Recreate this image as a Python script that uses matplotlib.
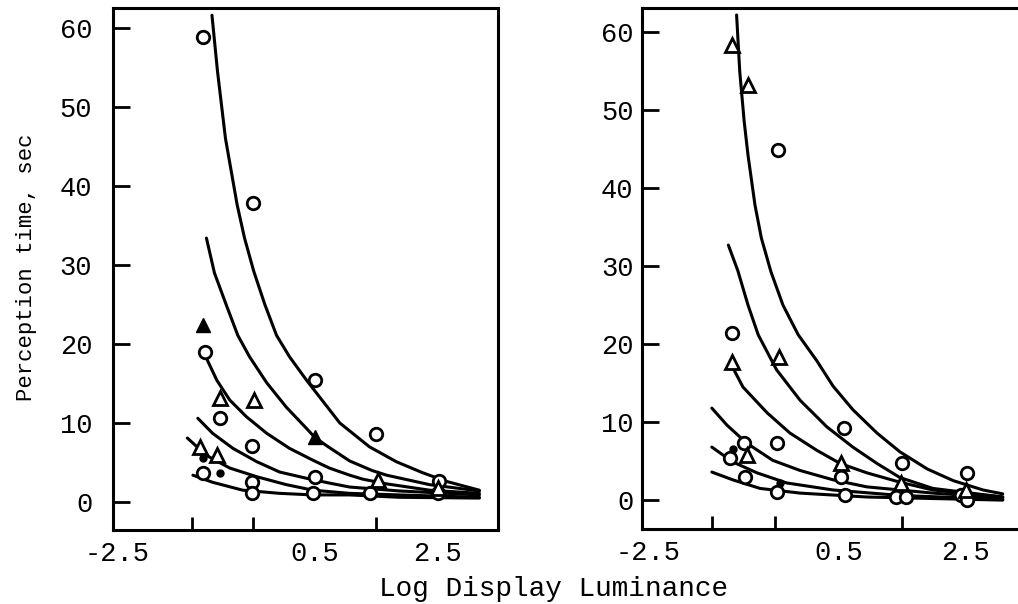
import matplotlib
matplotlib.use('Agg')
import matplotlib.pyplot as plt
from matplotlib.transforms import ScaledTranslation

plt.rcParams['font.family'] = ['Liberation Mono', 'DejaVu Sans Mono']

# ---- left panel: fitted curves (log luminance, seconds) ----
left_curves_x = [
    [-1.17, -1.08, -0.95, -0.76, -0.64, -0.49, -0.31, -0.12, 0.09, 0.37, 0.63, 0.91, 1.39, 1.83, 2.26, 2.65, 3.18],
    [-1.26, -1.13, -0.94, -0.75, -0.56, -0.28, 0.04, 0.37, 0.50, 0.70, 1.07, 1.43, 1.67, 2.37, 3.18],
    [-1.29, -1.26, -1.09, -0.88, -0.61, -0.28, 0.09, 0.47, 0.74, 1.07, 1.28, 1.67, 2.37, 3.18],
    [-1.40, -1.16, -0.83, -0.44, -0.07, 0.37, 0.74, 1.07, 1.88, 3.18],
    [-1.57, -1.26, -0.88, -0.44, 0.04, 0.47, 1.07, 1.88, 3.18],
    [-1.48, -1.16, -0.67, -0.07, 0.47, 1.07, 1.88, 3.18],
]
left_curves_y = [
    [61.6, 54.5, 46.0, 37.6, 33.4, 29.2, 25.0, 21.1, 18.4, 15.4, 12.8, 10.0, 7.0, 5.1, 3.7, 2.6, 1.5],
    [33.4, 29.0, 25.0, 21.1, 18.4, 15.1, 12.0, 9.3, 8.2, 7.1, 5.2, 4.0, 3.4, 2.2, 1.4],
    [19.0, 18.2, 15.4, 12.9, 10.8, 8.7, 6.8, 5.3, 4.3, 3.4, 2.9, 2.3, 1.5, 1.1],
    [10.6, 8.7, 6.8, 5.1, 3.8, 3.0, 2.4, 1.9, 1.4, 0.9],
    [8.1, 5.9, 4.3, 3.2, 2.2, 1.5, 1.1, 0.9, 0.6],
    [3.4, 2.5, 1.5, 1.1, 0.9, 0.9, 0.6, 0.5],
]

# left panel: measured points
left_circle_x = [-1.32, -0.51, 0.50, 1.50, 2.53, -1.29, -1.04, -0.52, -1.32, 0.50, -0.52, -0.52, 0.47, 1.40, 2.50]
left_circle_y = [58.9, 37.8, 15.4, 8.6, 2.7, 19.0, 10.6, 7.1, 3.7, 3.2, 2.5, 1.1, 1.1, 1.1, 1.2]
left_solid_tri_x = [-1.32, 0.50]
left_solid_tri_y = [22.4, 8.2]
left_open_tri_x = [-1.04, -0.48, -1.08, -1.36, 1.53, 2.50]
left_open_tri_y = [13.2, 12.9, 5.9, 7.0, 2.8, 1.8]
left_dot_x = [-1.32, -1.04]
left_dot_y = [5.6, 3.7]

# ---- right panel: fitted curves ----
right_curves_x = [
    [-1.11, -1.06, -0.99, -0.93, -0.82, -0.72, -0.57, -0.38, -0.14, 0.15, 0.41, 0.72, 1.10, 1.46, 1.89, 2.30, 2.77, 3.08],
    [-1.24, -1.09, -0.93, -0.77, -0.48, -0.11, 0.31, 0.72, 1.10, 1.46, 1.98, 3.08],
    [-1.19, -1.01, -0.63, -0.27, 0.15, 0.52, 0.94, 1.46, 1.98, 3.08],
    [-1.50, -1.26, -0.95, -0.54, -0.11, 0.41, 0.94, 1.98, 3.08],
    [-1.50, -1.17, -0.79, -0.32, 0.41, 1.46, 3.08],
    [-1.50, -1.17, -0.74, -0.11, 0.94, 3.08],
]
right_curves_y = [
    [62.2, 54.9, 48.5, 44.2, 37.8, 33.6, 29.3, 25.0, 21.2, 17.9, 14.6, 11.6, 8.6, 6.2, 4.0, 2.5, 1.3, 0.8],
    [32.7, 29.4, 25.0, 21.2, 16.7, 12.8, 9.4, 6.8, 4.7, 2.9, 1.5, 0.4],
    [17.3, 14.5, 11.2, 8.6, 6.4, 4.7, 3.5, 2.3, 1.3, 0.4],
    [11.8, 9.6, 7.3, 5.1, 3.8, 2.6, 1.7, 0.9, 0.3],
    [6.8, 4.9, 3.5, 2.2, 1.3, 0.6, 0.1],
    [3.6, 2.6, 1.5, 0.9, 0.4, 0.0],
]

# right panel: measured points
right_circle_x = [-0.46, -1.18, -0.48, 0.58, -0.99, -1.22, -0.98, -0.48, 0.53, 0.60, 1.50, 1.40, 1.56, 2.52, 2.42, 2.52]
right_circle_y = [44.9, 21.4, 7.3, 9.2, 7.3, 5.4, 3.0, 1.1, 3.0, 0.6, 4.7, 0.4, 0.4, 3.5, 0.6, 0.0]
right_open_tri_x = [-1.18, -0.93, -1.18, -0.44, -0.95, 0.53, 1.48, 2.50]
right_open_tri_y = [58.3, 53.2, 17.7, 18.3, 5.8, 4.7, 2.2, 1.3]
right_dot_x = [-1.17, -0.43]
right_dot_y = [6.5, 2.2]

y_ticks = [0, 10, 20, 30, 40, 50, 60]
x_minor_ticks = [-1.5, -0.5, 0.5, 1.5, 2.5]
x_label_ticks = [-2.5, 0.5, 2.5]


def style_axes(ax, ypad):
    for side in ['left', 'bottom', 'top', 'right']:
        ax.spines[side].set_linewidth(2.2)
    ax.set_yticks(y_ticks)
    ax.tick_params(axis='y', direction='in', length=12, width=2, labelsize=19.5, pad=ypad)
    # labels only at -2.5, 0.5, 2.5; marks at the unit ticks
    ax.set_xticks(x_label_ticks)
    ax.set_xticks(x_minor_ticks, minor=True)
    ax.tick_params(axis='x', which='major', length=0, labelsize=19.5, pad=8)
    ax.tick_params(axis='x', which='minor', direction='in', length=9.5, width=2)
    ax.set_xticklabels([f'{v:.1f}' for v in x_label_ticks])


def draw_panel(ax, curves_x, curves_y):
    for cx, cy in zip(curves_x, curves_y):
        ax.plot(cx, cy, color='black', linewidth=2.2, solid_capstyle='round',
                solid_joinstyle='round', zorder=2)


fig = plt.figure(figsize=(10.18, 6.04), dpi=100)

# left panel
ax1 = fig.add_axes([0.111, 0.1225, 0.378, 0.864])
draw_panel(ax1, left_curves_x, left_curves_y)
ax1.plot(left_circle_x, left_circle_y, 'o', ms=9, mfc='white', mec='black', mew=2, zorder=3)
ax1.plot(left_open_tri_x, left_open_tri_y, '^', ms=10, mfc='white', mec='black', mew=2, zorder=3)
ax1.plot(left_solid_tri_x, left_solid_tri_y, '^', ms=10, mfc='black', mec='black', zorder=3)
ax1.plot(left_dot_x, left_dot_y, 'o', ms=5, color='black', zorder=3)
ax1.set_xlim(-2.78, 3.48)
ax1.set_ylim(-3.54, 62.5)
style_axes(ax1, ypad=15)
# the -2.5 label sits a little left of its position in the original
shift = ScaledTranslation(-0.13, 0, fig.dpi_scale_trans)
lbl = ax1.get_xticklabels()[0]
lbl.set_transform(lbl.get_transform() + shift)

# right panel
ax2 = fig.add_axes([0.6306, 0.1242, 0.3694, 0.8626])
draw_panel(ax2, right_curves_x, right_curves_y)
ax2.plot(right_circle_x, right_circle_y, 'o', ms=9, mfc='white', mec='black', mew=2, zorder=3)
ax2.plot(right_open_tri_x, right_open_tri_y, '^', ms=10, mfc='white', mec='black', mew=2, zorder=3)
ax2.plot(right_dot_x, right_dot_y, 'o', ms=5, color='black', zorder=3)
ax2.set_xlim(-2.60, 3.32)
ax2.set_ylim(-3.7, 63.1)
style_axes(ax2, ypad=6)
ax2.spines['right'].set_visible(False)

fig.text(0.026, 1 - 267 / 604, 'Perception time, sec', rotation=90, ha='center', va='center', fontsize=16)
fig.text(554 / 1018, 1 - 589 / 604, 'Log Display Luminance', ha='center', va='center', fontsize=20)

fig.savefig('out.png', dpi=100, facecolor='white')
